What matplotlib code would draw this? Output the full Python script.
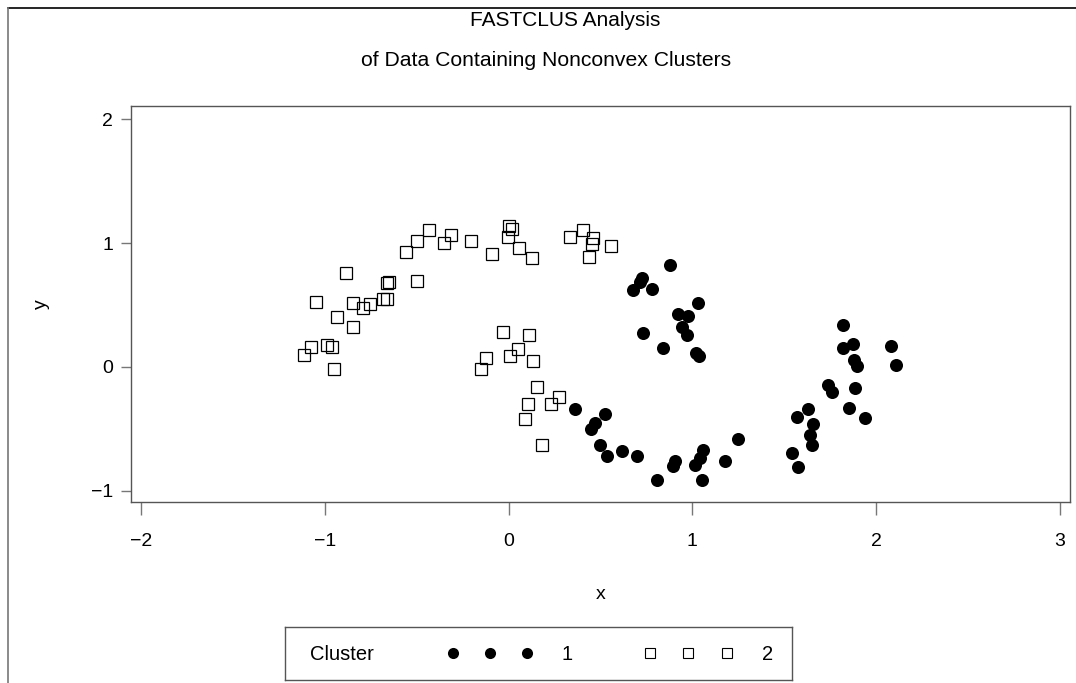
import numpy as np
import matplotlib
matplotlib.use("Agg")
import matplotlib.pyplot as plt
from matplotlib.lines import Line2D

plt.rcParams['font.family'] = ['Liberation Sans', 'DejaVu Sans']

# cluster 1 (filled dots)
x1 = [0.880, 0.727, 0.715, 0.677, 0.782, 1.030, 0.923, 0.978, 0.945, 0.971,
      0.730, 0.840, 1.018, 1.036, 0.361, 0.523, 0.470, 0.447, 0.497, 0.537,
      0.617, 0.697, 0.809, 0.907, 0.893, 1.058, 1.040, 1.013, 1.054, 1.177,
      1.248, 1.821, 1.821, 1.875, 1.881, 1.897, 2.082, 2.108, 1.736, 1.760,
      1.885, 1.850, 1.941, 1.631, 1.569, 1.658, 1.638, 1.652, 1.540, 1.573]
y1 = [0.825, 0.720, 0.683, 0.623, 0.629, 0.514, 0.427, 0.411, 0.325, 0.258,
      0.277, 0.151, 0.110, 0.089, -0.341, -0.377, -0.454, -0.498, -0.631, -0.718,
      -0.675, -0.718, -0.911, -0.760, -0.798, -0.667, -0.734, -0.790, -0.911, -0.756,
      -0.578, 0.339, 0.151, 0.183, 0.056, 0.008, 0.169, 0.012, -0.145, -0.202,
      -0.172, -0.331, -0.409, -0.336, -0.401, -0.462, -0.546, -0.631, -0.696, -0.809]

# cluster 2 (open squares)
x2 = [-0.433, -0.497, -0.558, -0.313, -0.350, -0.202, -0.089, 0.000, 0.020, -0.005,
      0.054, 0.129, 0.336, 0.406, 0.459, 0.455, 0.437, 0.557, -0.886, -0.659,
      -0.650, -0.500, -1.048, -0.848, -0.792, -0.752, -0.683, -0.662, -0.934, -0.847,
      -1.073, -1.112, -0.988, -0.959, -0.952, -0.029, 0.111, 0.051, 0.009, 0.133,
      -0.121, -0.150, 0.155, 0.106, 0.229, 0.276, 0.088, 0.183]
y2 = [1.107, 1.014, 0.925, 1.067, 1.004, 1.014, 0.914, 1.135, 1.113, 1.051,
      0.957, 0.879, 1.046, 1.107, 1.038, 0.990, 0.890, 0.976, 0.758, 0.677,
      0.684, 0.696, 0.527, 0.516, 0.473, 0.506, 0.551, 0.546, 0.406, 0.323,
      0.161, 0.094, 0.177, 0.161, -0.019, 0.280, 0.260, 0.143, 0.091, 0.051,
      0.070, -0.014, -0.159, -0.301, -0.296, -0.242, -0.417, -0.627]

xticks = [-2, -1, 0, 1, 2, 3]
yticks = [-1, 0, 1, 2]

W, H = 1076, 683
fig = plt.figure(figsize=(W / 100, H / 100), dpi=100)

# page frame (top and left edges)
fig.add_artist(Line2D([8 / W, 1], [1 - 8 / H, 1 - 8 / H], color='black', lw=1.2))
fig.add_artist(Line2D([8 / W, 8 / W], [0, 1 - 8 / H], color='#777777', lw=1.2))

fig.text(565 / W, 1 - 21 / H, 'FASTCLUS Analysis', ha='center', va='center', fontsize=15)
fig.text(546 / W, 1 - 60 / H, 'of Data Containing Nonconvex Clusters', ha='center',
         va='center', fontsize=15.2)

ax = fig.add_axes([131 / W, 1 - 502 / H, (1070 - 131) / W, (502 - 106) / H])
ax.plot(x1, y1, 'o', color='black', markersize=9.4, markeredgewidth=0, zorder=3)
ax.plot(x2, y2, 's', markerfacecolor='none', markeredgecolor='black',
        markersize=9.2, markeredgewidth=0.9, zorder=3)

ax.set_xlim(-2.054, 3.054)
ax.set_ylim(-1.089, 2.105)
ax.set_xticks(xticks)
ax.set_yticks(yticks)
ax.set_xticklabels(['\u2212%d' % -t if t < 0 else str(t) for t in xticks])
ax.set_yticklabels(['\u2212%d' % -t if t < 0 else str(t) for t in yticks])
ax.tick_params(axis='x', length=9, width=1, color='#777777', pad=13.5, labelsize=14)
ax.tick_params(axis='y', length=7, width=1, color='#777777', pad=6, labelsize=14)
for s in ax.spines.values():
    s.set_color('#555555')
    s.set_linewidth(1)
ax.set_xlabel('x', fontsize=14, labelpad=26)
ax.set_ylabel('y', fontsize=14, labelpad=29)

# legend box
lg = fig.add_axes([285 / W, 1 - 680 / H, (792 - 285) / W, 53 / H])
lg.set_xlim(0, 507)
lg.set_ylim(0, 53)
lg.set_xticks([])
lg.set_yticks([])
for s in lg.spines.values():
    s.set_color('#555555')
    s.set_linewidth(1)
lg.text(25, 26, 'Cluster', ha='left', va='center', fontsize=14.5)
lg.plot([168, 205, 242], [27] * 3, 'o', color='black', markersize=8, markeredgewidth=0)
lg.text(282, 26, '1', ha='center', va='center', fontsize=14.5)
lg.plot([365, 403, 442], [27] * 3, 's', markerfacecolor='none', markeredgecolor='black',
        markersize=7.5, markeredgewidth=0.8)
lg.text(483, 26, '2', ha='center', va='center', fontsize=14.5)

fig.savefig('out.png', dpi=100)
